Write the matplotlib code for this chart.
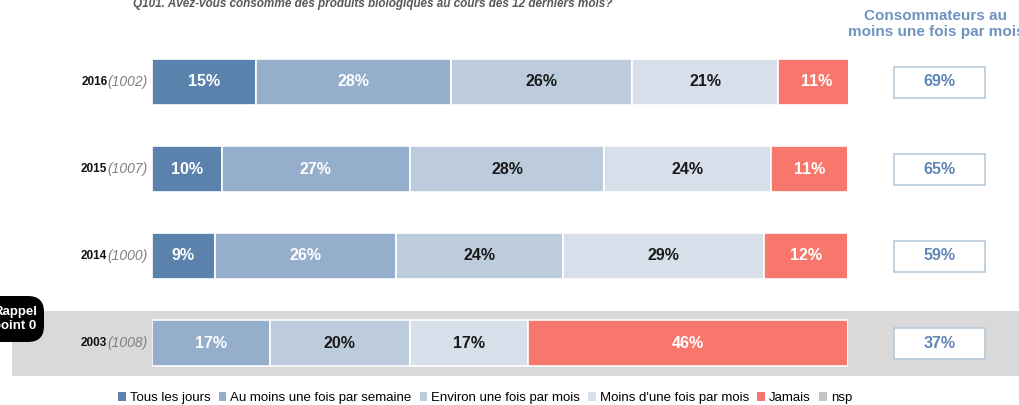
import matplotlib
matplotlib.use("Agg")
import matplotlib.pyplot as plt
from matplotlib.patches import Rectangle, FancyBboxPatch, Patch
import numpy as np

plt.rcParams['font.family'] = ['Liberation Sans', 'DejaVu Sans']

years = ["2016", "2015", "2014", "2003"]
samples = ["(1002)", "(1007)", "(1000)", "(1008)"]
categories = ["Tous les jours", "Au moins une fois par semaine", "Environ une fois par mois",
              "Moins d'une fois par mois", "Jamais", "nsp"]
tous_les_jours = [15, 10, 9, 0]
au_moins_semaine = [28, 27, 26, 17]
environ_mois = [26, 28, 24, 20]
moins_mois = [21, 24, 29, 17]
jamais = [11, 11, 12, 46]
nsp = [0, 0, 0, 0]
consommateurs = ["69%", "65%", "59%", "37%"]

colors = ["#5a82ad", "#94aecb", "#bdccdd", "#d6dfea", "#f8776c", "#c4c4c4"]
text_colors = ["white", "white", "#1a1a1a", "#1a1a1a", "white", "#1a1a1a"]

W, H = 1019, 405
fig = plt.figure(figsize=(W / 100, H / 100), dpi=100)

# overlay axes in pixel coordinates for decorations
ov = fig.add_axes([0, 0, 1, 1], zorder=0)
ov.set_xlim(0, W)
ov.set_ylim(H, 0)
ov.axis("off")

# grey band behind 2003 row
ov.add_patch(Rectangle((12, 311), W - 12, 65, facecolor="#d9d9d9", edgecolor="none", zorder=0))

# bar axes
ax = fig.add_axes([152 / W, 1 - 386.5 / H, 696 / W, 348 / H], zorder=1)
ax.set_facecolor("none")
ax.set_xlim(0, 100)
ax.set_ylim(3.5, -0.5)
ax.axis("off")

series = [tous_les_jours, au_moins_semaine, environ_mois, moins_mois, jamais, nsp]
ypos = np.arange(len(years))
left = np.zeros(len(years))
for vals, col, tc in zip(series, colors, text_colors):
    vals = np.array(vals, dtype=float)
    ax.barh(ypos, vals, left=left, height=0.52, color=col, edgecolor="white", linewidth=1.2, zorder=2)
    for y, v, l in zip(ypos, vals, left):
        if v > 0:
            ax.text(l + v / 2, y, f"{int(v)}%", ha="center", va="center", color=tc,
                    fontsize=11.5, fontweight="bold", zorder=3)
    left += vals

# row labels
for y, yr, s in zip(ypos, years, samples):
    st = ax.annotate(s, xy=(0, y), xytext=(-3, 0), textcoords="offset points", ha="right", va="center",
                     fontsize=10, fontstyle="italic", color="#7f7f7f")
    ax.annotate(yr, xy=(0, 0.5), xycoords=st, xytext=(-0.2, 0), textcoords="offset points",
                ha="right", va="center", fontsize=8.5, color="#111111", fontweight="bold")

# right summary boxes
for y, c in zip(ypos, consommateurs):
    py = 82 + 87 * y
    ov.add_patch(Rectangle((894, py - 15.5), 91, 31, facecolor="white",
                           edgecolor="#b8c8dc", linewidth=1.2, zorder=1))
    ov.text(939.5, py, c, ha="center", va="center", fontsize=11.5,
            fontweight="bold", color="#5f86b5")

ov.text(936, 24, "Consommateurs au\nmoins une fois par mois", ha="center", va="center",
        fontsize=11, fontweight="bold", color="#6f93c0", linespacing=1.2, clip_on=False)

ov.text(133, 4, "Q101. Avez-vous consommé des produits biologiques au cours des 12 derniers mois?",
        ha="left", va="center", fontsize=8.5, fontstyle="italic", fontweight="bold", color="#595959")

# "Rappel point 0" bubble (cut at the left edge as in the original)
ov.add_patch(FancyBboxPatch((-30, 296), 74, 46, boxstyle="round,pad=0,rounding_size=16",
                            facecolor="black", edgecolor="none", zorder=4))
ov.text(15, 319, "Rappel\npoint 0", ha="center", va="center", fontsize=9.5,
        fontweight="bold", color="white", linespacing=1.3, zorder=5)

handles = [Patch(facecolor=c, edgecolor="none") for c in colors]
fig.legend(handles, categories, loc="center", bbox_to_anchor=(485 / W, 1 - 398 / H), ncol=6,
           frameon=False, fontsize=9.5, handlelength=0.6, handleheight=0.6,
           handletextpad=0.3, columnspacing=0.6)

fig.savefig("out.png", dpi=100)
